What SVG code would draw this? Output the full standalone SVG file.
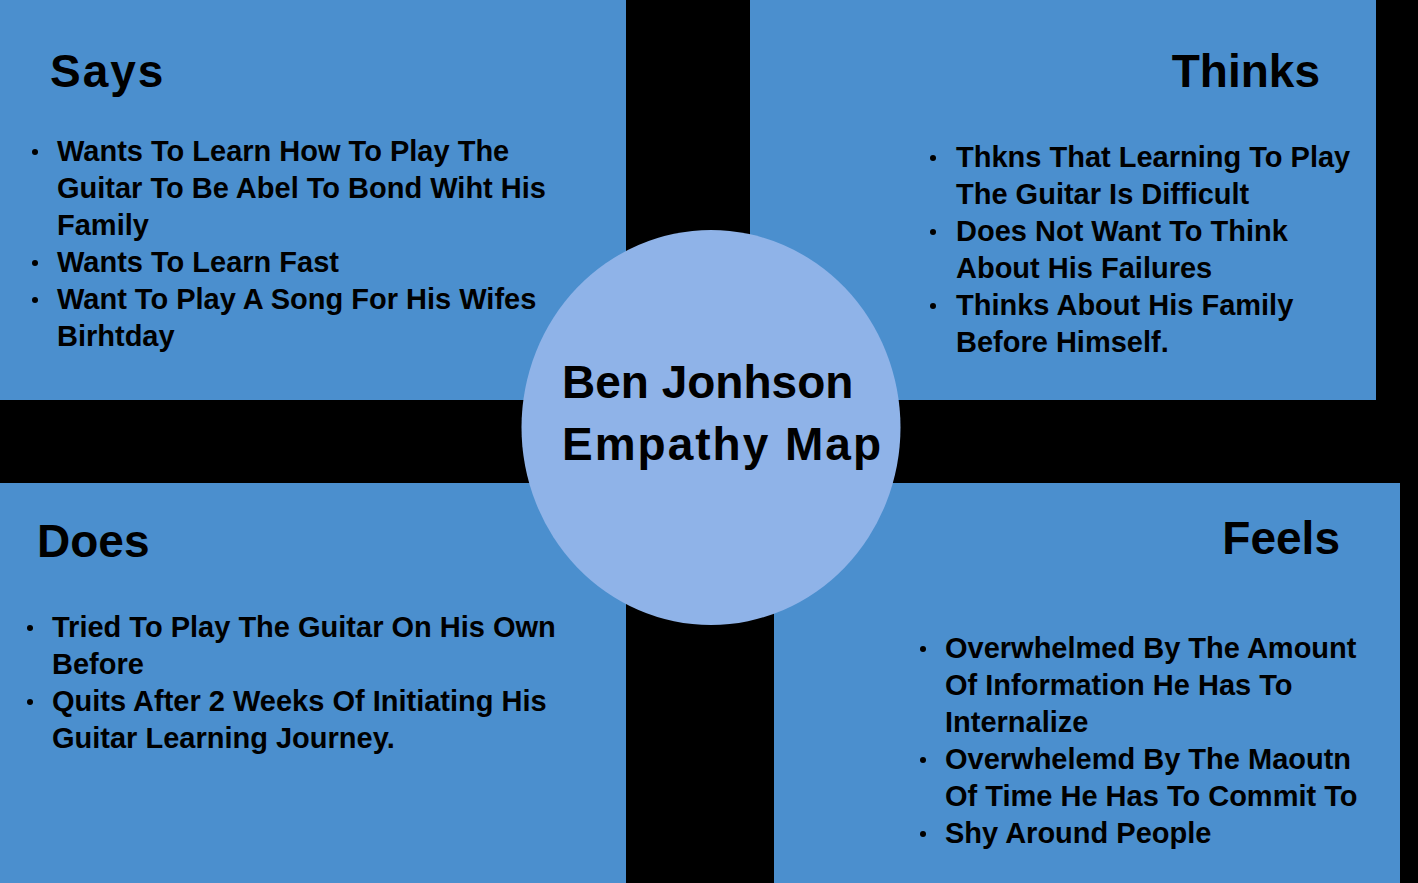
<svg xmlns="http://www.w3.org/2000/svg" width="1418" height="883" viewBox="0 0 1418 883">
<style>
.panel{fill:#4B8FCE}
.hub{fill:#8FB3E8}
.head{font-family:"Liberation Sans",Arial,sans-serif;font-weight:bold;font-size:46px;fill:#000}
.item{font-family:"Liberation Sans",Arial,sans-serif;font-weight:bold;font-size:29px;fill:#000}
.title{font-family:"Liberation Sans",Arial,sans-serif;font-weight:bold;font-size:46px;fill:#000}
.dot{fill:#000}
</style>
<rect x="0" y="0" width="1418" height="883" fill="#000"/>
<g id="says">
<rect class="panel" x="0" y="0" width="626" height="400"/>
<text class="head" x="50" y="87" letter-spacing="2">Says</text>
<circle class="dot" cx="35" cy="152" r="3"/>
<circle class="dot" cx="35" cy="263" r="3"/>
<circle class="dot" cx="35" cy="300" r="3"/>
<text class="item" x="57" y="161">Wants To Learn How To Play The</text>
<text class="item" x="57" y="198">Guitar To Be Abel To Bond Wiht His</text>
<text class="item" x="57" y="235">Family</text>
<text class="item" x="57" y="272">Wants To Learn Fast</text>
<text class="item" x="57" y="309">Want To Play A Song For His Wifes</text>
<text class="item" x="57" y="346">Birhtday</text>
</g>
<g id="thinks">
<rect class="panel" x="750" y="0" width="626" height="400"/>
<text class="head" x="1320" y="87" text-anchor="end">Thinks</text>
<circle class="dot" cx="933" cy="158" r="3"/>
<circle class="dot" cx="933" cy="232" r="3"/>
<circle class="dot" cx="933" cy="306" r="3"/>
<text class="item" x="956" y="167">Thkns That Learning To Play</text>
<text class="item" x="956" y="204">The Guitar Is Difficult</text>
<text class="item" x="956" y="241">Does Not Want To Think</text>
<text class="item" x="956" y="278">About His Failures</text>
<text class="item" x="956" y="315">Thinks About His Family</text>
<text class="item" x="956" y="352">Before Himself.</text>
</g>
<g id="does">
<rect class="panel" x="0" y="483" width="626" height="400"/>
<text class="head" x="37" y="557">Does</text>
<circle class="dot" cx="30" cy="628" r="3"/>
<circle class="dot" cx="30" cy="702" r="3"/>
<text class="item" x="52" y="637">Tried To Play The Guitar On His Own</text>
<text class="item" x="52" y="674">Before</text>
<text class="item" x="52" y="711">Quits After 2 Weeks Of Initiating His</text>
<text class="item" x="52" y="748">Guitar Learning Journey.</text>
</g>
<g id="feels">
<rect class="panel" x="774" y="483" width="626" height="400"/>
<text class="head" x="1340" y="554" text-anchor="end">Feels</text>
<circle class="dot" cx="923" cy="649" r="3"/>
<circle class="dot" cx="923" cy="760" r="3"/>
<circle class="dot" cx="923" cy="834" r="3"/>
<text class="item" x="945" y="658">Overwhelmed By The Amount</text>
<text class="item" x="945" y="695">Of Information He Has To</text>
<text class="item" x="945" y="732">Internalize</text>
<text class="item" x="945" y="769">Overwhelemd By The Maoutn</text>
<text class="item" x="945" y="806">Of Time He Has To Commit To</text>
<text class="item" x="945" y="843">Shy Around People</text>
</g>
<g id="center">
<ellipse class="hub" cx="711" cy="427.5" rx="189.5" ry="197.5"/>
<text class="title" x="562" y="398">Ben Jonhson</text>
<text class="title" x="562" y="460" letter-spacing="2">Empathy Map</text>
</g>
</svg>
